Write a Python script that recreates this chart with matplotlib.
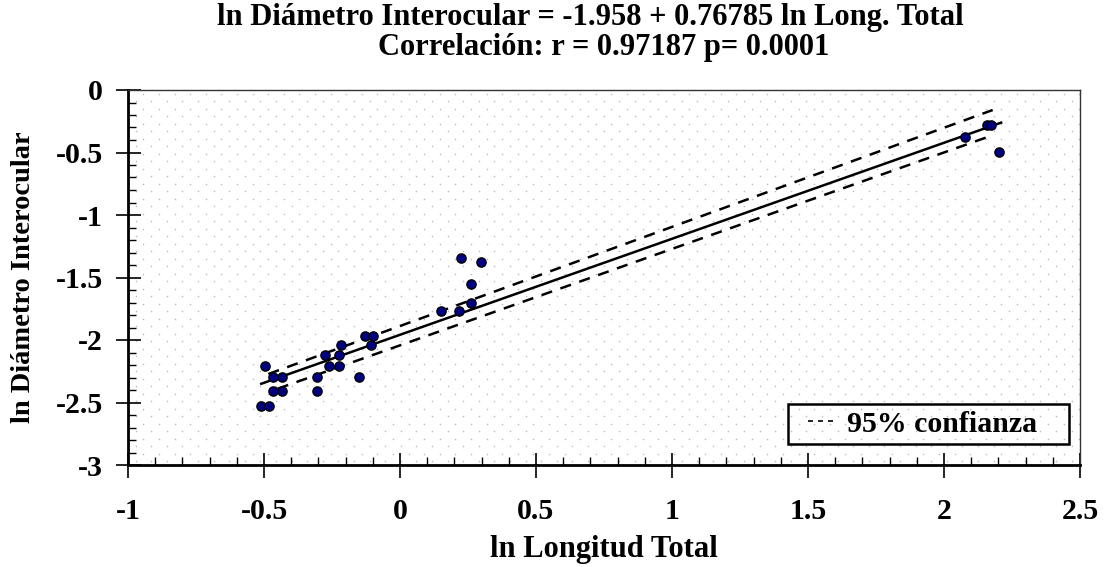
import numpy as np
import matplotlib
matplotlib.use('Agg')
import matplotlib.pyplot as plt
from matplotlib.lines import Line2D
from matplotlib.patches import Rectangle
from matplotlib.ticker import MultipleLocator

plt.rcParams['font.family'] = ['Liberation Serif', 'DejaVu Serif']
plt.rcParams['font.weight'] = 'bold'

# ln longitud total vs ln diametro interocular
ln_long = [-0.512, -0.482, -0.497, -0.468, -0.433, -0.468, -0.433,
           -0.306, -0.306, -0.277, -0.262, -0.225, -0.225, -0.218,
           -0.152, -0.130, -0.100, -0.108, 0.150, 0.216, 0.260,
           0.260, 0.223, 0.297, 2.077, 2.159, 2.172, 2.201]
ln_diam = [-2.525, -2.525, -2.208, -2.299, -2.299, -2.405, -2.405,
           -2.299, -2.405, -2.117, -2.208, -2.208, -2.117, -2.043,
           -2.299, -1.968, -1.968, -2.043, -1.768, -1.768, -1.707,
           -1.555, -1.341, -1.373, -0.373, -0.280, -0.280, -0.493]

# regression line and 95% band end points
fit_x = [-0.51, 2.21]
fit_y = [-2.350, -0.261]
upper_x = [-0.484, 2.179]
upper_y = [-2.272, -0.160]
lower_x = [-0.450, 2.154]
lower_y = [-2.390, -0.381]

title1 = 'ln Diámetro Interocular = -1.958 + 0.76785 ln Long. Total'
title2 = 'Correlación: r = 0.97187 p= 0.0001'

W, H = 1104, 567
fig = plt.figure(figsize=(W / 100, H / 100), dpi=100)
ax = fig.add_axes([128 / W, 1 - 465 / H, (1080 - 128) / W, (465 - 90) / H])

# dotted background texture
gx = np.arange(0.008, 1.0, 15.6 / 952)
gy = np.arange(0.01, 1.0, 7.5 / 375)
px, py = [], []
for i, yy in enumerate(gy):
    off = 0 if i % 2 == 0 else 7.8 / 952
    px.extend(gx + off)
    py.extend([yy] * len(gx))
ax.scatter(px, py, s=1.3, color='#bcbcbc', linewidths=0,
           transform=ax.transAxes, zorder=0, clip_on=True)

ax.plot(fit_x, fit_y, color='black', lw=1.8, zorder=2)
ax.plot(upper_x, upper_y, color='black', lw=1.8, dashes=(4.5, 3.5), zorder=2)
ax.plot(lower_x, lower_y, color='black', lw=1.8, dashes=(4.5, 3.5), zorder=2)
ax.scatter(ln_long, ln_diam, s=44, color='#000080', edgecolors='black',
           linewidths=1.0, zorder=3)

ax.set_xlim(-1, 2.5)
ax.set_ylim(-3, 0)
ax.xaxis.set_major_locator(MultipleLocator(0.5))
ax.xaxis.set_minor_locator(MultipleLocator(0.1))
ax.yaxis.set_major_locator(MultipleLocator(0.5))
ax.yaxis.set_minor_locator(MultipleLocator(0.1))
ax.xaxis.set_major_formatter(plt.FuncFormatter(lambda v, p: '%g' % v))
ax.yaxis.set_major_formatter(plt.FuncFormatter(lambda v, p: '%g' % v))

ax.tick_params(which='major', direction='inout', length=18, width=1.2,
               labelsize=21.5)
ax.tick_params(axis='x', which='major', pad=15)
ax.tick_params(axis='y', which='major', pad=9)
ax.tick_params(which='minor', direction='in', length=6, width=1.0)
for lab in ax.get_xticklabels() + ax.get_yticklabels():
    lab.set_fontweight('bold')

for s in ['left', 'bottom']:
    ax.spines[s].set_linewidth(2.0)
    ax.spines[s].set_color('black')
for s in ['top', 'right']:
    ax.spines[s].set_linewidth(1.0)
    ax.spines[s].set_color('#333333')

ax.set_xlabel('ln Longitud Total', fontsize=22, fontweight='bold', labelpad=7)
ax.set_ylabel('ln Diámetro Interocular', fontsize=20.5, fontweight='bold',
              labelpad=14)

fig.text(590 / W, 1 - 18 / H, title1, ha='center', va='center',
         fontsize=22, fontweight='bold')
fig.text(604 / W, 1 - 48 / H, title2, ha='center', va='center',
         fontsize=22, fontweight='bold')

# legend box drawn as in the original, legend itself without frame
ax.add_patch(Rectangle(((788 - 128) / 952, (465 - 444) / 375),
                       (1069 - 788) / 952, 40 / 375, transform=ax.transAxes,
                       facecolor='none', edgecolor='black', lw=1.8, zorder=4))
handle = Line2D([], [], color='black', lw=1.2, dashes=(3, 3))
ax.legend([handle], ['95% confianza'], loc='center left',
          bbox_to_anchor=((808 - 128) / 952, (465 - 424) / 375),
          frameon=False, prop={'size': 21.5, 'weight': 'bold'},
          handlelength=1.0, handletextpad=0.3, borderpad=0.0,
          borderaxespad=0.0)

fig.savefig('out.png', dpi=100)
